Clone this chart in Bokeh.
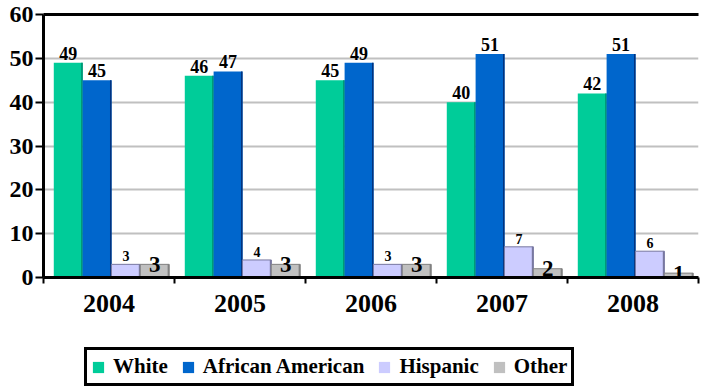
from bokeh.plotting import figure
from bokeh.layouts import column
from bokeh.models import (ColumnDataSource, LabelSet, Legend, LegendItem,
                          FixedTicker, LinearAxis, Range1d)
from bokeh.embed import file_html
from bokeh.resources import INLINE

# ---- data ----
years = ["2004", "2005", "2006", "2007", "2008"]
white = [49, 46, 45, 40, 42]
african_american = [45, 47, 49, 51, 51]
hispanic = [3, 4, 3, 7, 6]
other = [3, 3, 3, 2, 1]

series_names = ["White", "African American", "Hispanic", "Other"]
series_values = [white, african_american, hispanic, other]

# ---- styles ----
FONT = "Liberation Serif"
fills = ["#00CC99", "#0066CC", "#CCCCFF", "#C0C0C0"]
edges = ["#009070", "#003380", "#7878A0", "#808080"]
offsets = [-0.311, -0.091, 0.129, 0.349]
bar_w = 0.221
label_sizes = ["18px", "18px", "14px", "23px"]

p1 = figure(width=701, height=327, x_range=Range1d(0, 5), y_range=Range1d(0, 60),
            output_backend="svg", toolbar_location=None,
            min_border_left=43, min_border_right=3, min_border_top=14,
            min_border_bottom=50)
p1.outline_line_color = None
p1.background_fill_color = "white"
p1.border_fill_color = "white"

p1.xgrid.visible = False
p1.ygrid.grid_line_color = "#C0C0C0"
p1.ygrid.grid_line_width = 2
p1.ygrid.ticker = FixedTicker(ticks=[10, 20, 30, 40, 50])

centers = [i + 0.5 for i in range(len(years))]

for k, (name, vals) in enumerate(zip(series_names, series_values)):
    xs = [c + offsets[k] for c in centers]
    src = ColumnDataSource(dict(x=xs, top=vals, lab=[str(v) for v in vals],
                                xe=[x + bar_w / 2 - 0.006 for x in xs]))
    p1.vbar(x="x", top="top", width=bar_w, source=src, fill_color=fills[k],
            line_color=edges[k] if k >= 2 else None, line_width=1)
    p1.vbar(x="xe", top="top", width=0.012, source=src, fill_color=edges[k],
            line_color=None)
    if k == 3:
        ls = LabelSet(x="x", y="top", text="lab", source=src, text_align="center",
                      text_baseline="middle", text_font=FONT, text_font_style="bold",
                      text_font_size=label_sizes[k], text_color="black", y_offset=0)
    else:
        ls = LabelSet(x="x", y="top", text="lab", source=src, text_align="center",
                      text_baseline="alphabetic", text_font=FONT, text_font_style="bold",
                      text_font_size=label_sizes[k], text_color="black", y_offset=3)
    p1.add_layout(ls)

# x axis
xa = p1.xaxis[0]
xa.ticker = FixedTicker(ticks=centers, minor_ticks=[0, 1, 2, 3, 4, 5])
xa.major_label_overrides = {c: y for c, y in zip(centers, years)}
xa.major_tick_line_color = None
xa.major_tick_out = 0
xa.major_tick_in = 0
xa.minor_tick_line_color = "black"
xa.minor_tick_line_width = 2
xa.minor_tick_out = 6
xa.minor_tick_in = 0
xa.axis_line_width = 3
xa.axis_line_color = "black"
xa.major_label_standoff = 11
xa.major_label_text_font = FONT
xa.major_label_text_font_style = "bold"
xa.major_label_text_font_size = "26px"
xa.major_label_text_color = "black"

# y axis
ya = p1.yaxis[0]
ya.ticker = FixedTicker(ticks=[0, 10, 20, 30, 40, 50, 60])
ya.axis_line_width = 3
ya.axis_line_color = "black"
ya.major_tick_line_color = "black"
ya.major_tick_line_width = 2
ya.major_tick_out = 8
ya.major_tick_in = 0
ya.minor_tick_line_color = None
ya.major_label_standoff = 2
ya.major_label_text_font = FONT
ya.major_label_text_font_style = "bold"
ya.major_label_text_font_size = "24px"
ya.major_label_text_color = "black"

# top frame line
top_axis = LinearAxis(ticker=FixedTicker(ticks=[]), axis_line_width=3,
                      axis_line_color="black", major_tick_line_color=None,
                      minor_tick_line_color=None, major_tick_out=0, major_tick_in=0)
p1.add_layout(top_axis, "above")

# ---- legend strip ----
p2 = figure(width=701, height=61, x_range=Range1d(0, 701), y_range=Range1d(0, 61),
            output_backend="svg", toolbar_location=None,
            x_axis_type=None, y_axis_type=None,
            min_border_left=0, min_border_right=0, min_border_top=0,
            min_border_bottom=0)
p2.outline_line_color = None
p2.background_fill_color = "white"
p2.border_fill_color = "white"

legend_items = []
for k, name in enumerate(series_names):
    r = p2.vbar(x=[0], top=[0], width=0, fill_color=fills[k], line_color=None)
    legend_items.append(LegendItem(label=name, renderers=[r]))

legend = Legend(items=legend_items, location=(41, 2), orientation="horizontal",
                label_text_font=FONT, label_text_font_style="bold",
                label_text_font_size="21px", label_text_color="black",
                glyph_width=14, glyph_height=14, label_standoff=8, spacing=13,
                padding=4, margin=0, border_line_color="black", border_line_width=3,
                border_line_alpha=1,
                background_fill_color="white", background_fill_alpha=1)
p2.add_layout(legend)

layout = column(p1, p2, spacing=0)
open("out.html", "w").write(file_html(layout, INLINE))
